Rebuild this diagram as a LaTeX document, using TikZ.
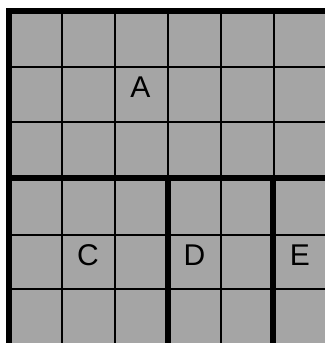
\documentclass[tikz,border=0pt]{standalone}
\usepackage{fontspec}
\setmainfont{Liberation Sans}
\definecolor{cellgray}{RGB}{165,165,165}
\begin{document}
\begin{tikzpicture}[x=1pt,y=-1pt,
  thinline/.style={line width=2pt,black},
  thickline/.style={line width=6pt,black},
  lab/.style={anchor=base,inner sep=0pt,font=\fontsize{30}{30}\selectfont}]
\useasboundingbox (0,0) rectangle (325,343);
\fill[white] (0,0) rectangle (325,343);
\fill[cellgray] (6,8) rectangle (325,343);
% thin grid lines
\foreach \x in {62,115,221} \draw[thinline] (\x,8) -- (\x,343);
\draw[thinline] (168,8) -- (168,178);
\draw[thinline] (274,8) -- (274,178);
\foreach \y in {67,121.5,234.5,288.5} \draw[thinline] (6,\y) -- (325,\y);
% thick region borders
\draw[thickline] (9,8) -- (9,343);
\draw[thickline] (6,11) -- (325,11);
\draw[thickline] (6,178) -- (325,178);
\draw[thickline] (168,178) -- (168,343);
\draw[thickline] (273,178) -- (273,343);
% labels
\node[lab] (A) at (140.5,97) {A};
\node[lab] (C) at (88,265.5) {C};
\node[lab] (D) at (194.5,265) {D};
\node[lab] (E) at (300,265) {E};
\end{tikzpicture}
\end{document}
